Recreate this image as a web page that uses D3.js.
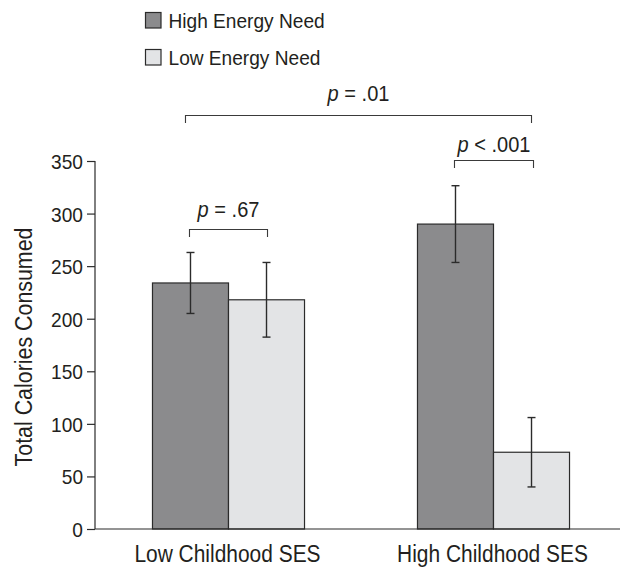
<!DOCTYPE html>
<html><head><meta charset="utf-8">
<script src="https://cdn.jsdelivr.net/npm/d3@7"></script>
<style>body{margin:0;background:#fff}svg{display:block}text{font-family:"Liberation Sans",Arial,sans-serif;fill:#231f20}</style>
</head><body><svg id="c" width="623" height="567"></svg>
<script>
const categories = ["Low Childhood SES", "High Childhood SES"];
const seriesNames = ["High Energy Need", "Low Energy Need"];
const highNeed = [234, 290];
const lowNeed = [218, 73];
const highNeedErr = [29, 36.5];
const lowNeedErr = [35.5, 33];
const yTicks = [0, 50, 100, 150, 200, 250, 300, 350];
const pLabels = ["p = .67", "p < .001", "p = .01"];

const colors = ["#8b8b8d", "#e3e4e6"];
const CONDENSE = 0.91;
const svg = d3.select("#c");
const y = d3.scaleLinear().domain([0, 350]).range([529, 161]);
const x0 = d3.scaleBand().domain(categories).range([96, 626]).paddingInner(0).paddingOuter(0);
const x1 = d3.scaleBand().domain(seriesNames).range([0, x0.bandwidth()]).paddingOuter(0.743).paddingInner(0);

function condense(sel) {
  sel.each(function () {
    const w = this.getComputedTextLength();
    d3.select(this).attr("textLength", w * CONDENSE).attr("lengthAdjust", "spacingAndGlyphs");
  });
}

const data = [];
categories.forEach((c, i) => {
  data.push({cat: c, s: seriesNames[0], v: highNeed[i], e: highNeedErr[i], col: colors[0]});
  data.push({cat: c, s: seriesNames[1], v: lowNeed[i], e: lowNeedErr[i], col: colors[1]});
});
const cx = d => x0(d.cat) + x1(d.s) + x1.bandwidth() / 2;

// bars
svg.selectAll("rect.bar").data(data).join("rect").attr("class", "bar")
  .attr("x", d => x0(d.cat) + x1(d.s)).attr("width", x1.bandwidth())
  .attr("y", d => y(d.v)).attr("height", d => y(0) - y(d.v))
  .attr("fill", d => d.col).attr("stroke", "#2b2b2b").attr("stroke-width", 1.2);

// error bars
const eg = svg.append("g").attr("stroke", "#2b2b2b").attr("stroke-width", 1.4);
data.forEach(d => {
  const xc = cx(d);
  eg.append("line").attr("x1", xc).attr("x2", xc).attr("y1", y(d.v + d.e)).attr("y2", y(d.v - d.e));
  [d.v + d.e, d.v - d.e].forEach(v => eg.append("line").attr("x1", xc - 4).attr("x2", xc + 4).attr("y1", y(v)).attr("y2", y(v)));
});

// y axis
const yAxis = d3.axisLeft(y).tickValues(yTicks).tickSize(8).tickPadding(4);
const ya = svg.append("g").attr("transform", "translate(95,0)").call(yAxis);
ya.select(".domain").attr("stroke", "#2b2b2b").attr("stroke-width", 1.2).attr("d", "M0,161V529");
ya.selectAll(".tick line").attr("stroke", "#2b2b2b").attr("stroke-width", 1.2);
ya.selectAll(".tick text").attr("font-size", 21).attr("font-family", "Liberation Sans, Arial, sans-serif")
  .attr("fill", "#231f20").attr("dy", "0.36em").call(condense);

// x axis baseline
svg.append("line").attr("x1", 95).attr("x2", 620).attr("y1", y(0)).attr("y2", y(0)).attr("stroke", "#2b2b2b").attr("stroke-width", 1.2);
svg.selectAll("text.xl").data(categories).join("text").attr("class", "xl")
  .attr("x", d => x0(d) + x0.bandwidth() / 2 - 1).attr("y", 562).attr("text-anchor", "middle")
  .attr("font-size", 23).text(d => d).call(condense);

// y title
svg.append("text").attr("transform", "translate(32,347) rotate(-90)").attr("text-anchor", "middle")
  .attr("font-size", 23.5).text("Total Calories Consumed").call(condense);

// legend
seriesNames.forEach((s, i) => {
  const g = svg.append("g").attr("transform", `translate(145.5,${12.5 + i * 37})`);
  g.append("rect").attr("width", 15.5).attr("height", 15.5).attr("fill", colors[i]).attr("stroke", "#2b2b2b").attr("stroke-width", 1.2);
  g.append("text").attr("x", 23).attr("y", 15).attr("font-size", 21).text(s).call(condense);
});

// brackets
function bracket(xa, xb, yy, label, ty) {
  svg.append("path").attr("d", `M${xa},${yy + 7.5}V${yy}H${xb}V${yy + 7.5}`)
    .attr("fill", "none").attr("stroke", "#3a3a3a").attr("stroke-width", 1.1);
  const t = svg.append("text").attr("x", (xa + xb) / 2).attr("y", ty).attr("text-anchor", "middle").attr("font-size", 22);
  const parts = label.split(" ");
  t.append("tspan").attr("font-style", "italic").text(parts[0]);
  t.append("tspan").text(" " + parts.slice(1).join(" "));
  t.call(condense);
}
const d0 = data[0], d1 = data[1], d2 = data[2], d3_ = data[3];
bracket(cx(d0) - 1, cx(d1) + 1, 229.5, pLabels[0], 217);
bracket(cx(d2) - 1, cx(d3_) + 2, 160.5, pLabels[1], 152);
bracket(cx(d0) - 5, cx(d3_) + 0, 115.5, pLabels[2], 101);
</script></body></html>
